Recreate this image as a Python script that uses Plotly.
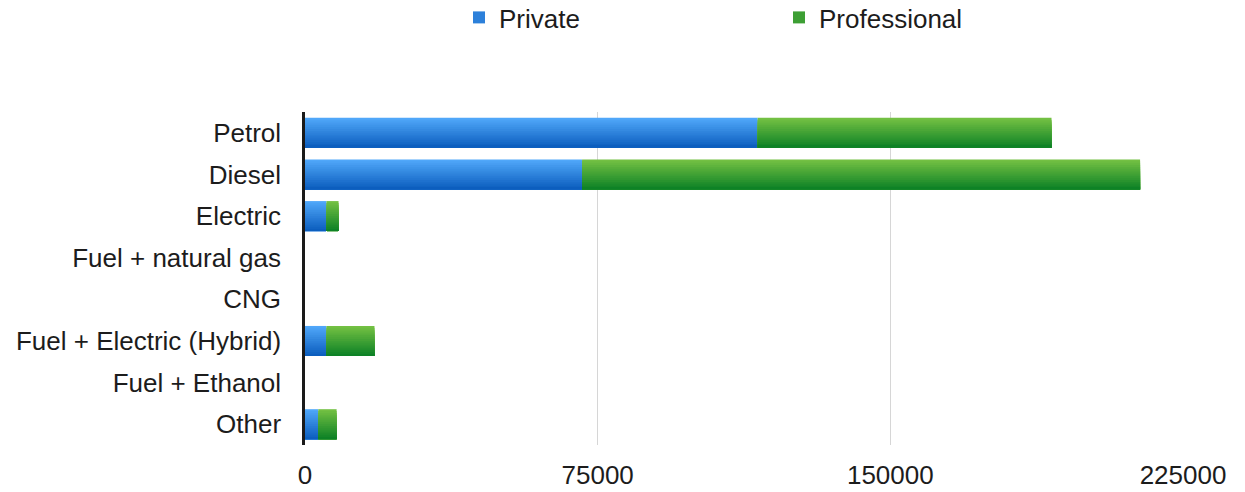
import plotly.graph_objects as go

# Vehicle registrations by fuel type, split by owner type
categories = ["Petrol", "Diesel", "Electric", "Fuel + natural gas", "CNG",
              "Fuel + Electric (Hybrid)", "Fuel + Ethanol", "Other"]
private = [116000, 71000, 5500, 0, 0, 5500, 0, 3400]
professional = [75300, 143000, 3100, 0, 0, 12300, 0, 4700]

x_ticks = [0, 75000, 150000, 225000]

# top / bottom colours of each bar gradient
blue_top, blue_bottom = (80, 167, 249), (12, 94, 190)
green_top, green_bottom = (115, 192, 67), (14, 130, 38)

BAR_WIDTH = 0.72
STEPS = 16
FONT = "Liberation Sans, Arial, sans-serif"


def mix(c1, c2, t):
    r, g, b = (round(a + (b_ - a) * t) for a, b_ in zip(c1, c2))
    return f"rgb({r},{g},{b})"


def gradient_bars(name, values, base, top, bottom):
    """Stack of overlaid bars, each starting lower and darker, to shade a bar vertically."""
    traces = []
    for i in range(STEPS):
        t = i / (STEPS - 1)
        start = -BAR_WIDTH / 2 + BAR_WIDTH * i / STEPS
        height = BAR_WIDTH / 2 - start
        traces.append(go.Bar(
            y=categories, x=values, base=base, orientation="h",
            width=height, offset=start,
            marker=dict(color=mix(top, bottom, t), line=dict(width=0)),
            name=name, legendgroup=name,
            showlegend=(i == STEPS // 2),
            hoverinfo="skip" if i else "x+y+name",
        ))
    return traces


fig = go.Figure()
for tr in gradient_bars("Private", private, [0] * len(categories), blue_top, blue_bottom):
    fig.add_trace(tr)
for tr in gradient_bars("Professional", professional, private, green_top, green_bottom):
    fig.add_trace(tr)

PLOT_H = 492 - 112 - 47
fig.update_layout(
    width=1245, height=492,
    margin=dict(l=305, r=62, t=112, b=47, autoexpand=False),
    paper_bgcolor="white", plot_bgcolor="white",
    barmode="overlay",
    font=dict(family=FONT, size=26, color="#1c1c1c"),
    legend=dict(
        orientation="h", x=(459 - 305) / (1245 - 305 - 62), xanchor="left",
        y=1 + (112 + 6) / PLOT_H, yanchor="top",
        entrywidth=275, entrywidthmode="pixels",
        font=dict(family=FONT, size=26, color="#1c1c1c"),
        bgcolor="rgba(0,0,0,0)",
    ),
    xaxis=dict(
        range=[0, 225000], tickvals=x_ticks, ticktext=[str(v) for v in x_ticks],
        showgrid=True, gridcolor="#d6d6d6", gridwidth=1,
        zeroline=False, showline=False, ticks="", ticklabelstandoff=12,
    ),
    yaxis=dict(
        autorange="reversed", type="category",
        showgrid=False, zeroline=False,
        showline=True, linecolor="#1a1a1a", linewidth=2.5,
        ticks="", ticklabelstandoff=16,
    ),
)

fig.write_html("out.html")
